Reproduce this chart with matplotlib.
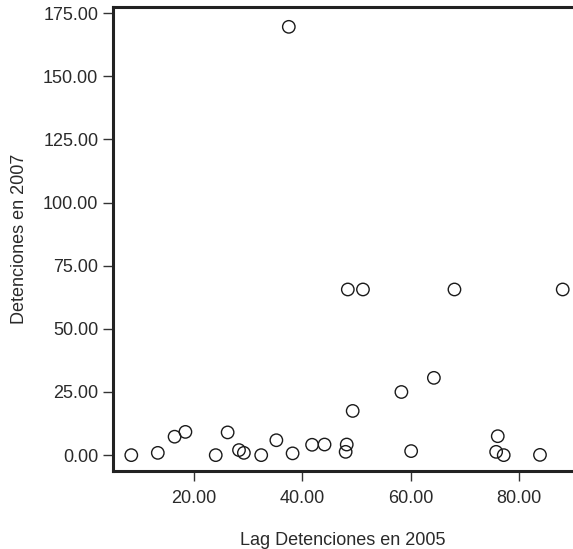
import matplotlib.pyplot as plt
import numpy as np

# Lag Detenciones en 2005 (x) vs Detenciones en 2007 (y)
lag_2005 = [8.4, 13.3, 16.4, 18.4, 24.0, 26.2, 28.3, 29.2, 32.4, 35.2,
            38.2, 41.8, 44.1, 48.2, 48.0, 49.3, 58.3, 64.3, 60.1, 76.1,
            75.8, 77.2, 83.9, 37.5, 48.4, 51.2, 68.1, 88.1]
det_2007 = [0.0, 0.9, 7.3, 9.2, 0.0, 9.0, 2.0, 0.9, 0.0, 5.9,
            0.7, 4.1, 4.2, 4.2, 1.3, 17.5, 25.0, 30.6, 1.6, 7.5,
            1.3, 0.0, 0.1, 169.6, 65.6, 65.6, 65.6, 65.6]

xticks = [20, 40, 60, 80]
yticks = [0, 25, 50, 75, 100, 125, 150, 175]

plt.rcParams['font.family'] = ['Liberation Sans', 'DejaVu Sans']
text_col = '#2a2a2a'

fig = plt.figure(figsize=(5.73, 5.49), dpi=100)
ax = fig.add_axes([0.197, 0.142, 0.803, 0.845])

ax.scatter(lag_2005, det_2007, s=80, facecolors='none', edgecolors='#1a1a1a',
           linewidths=1.0, clip_on=False, zorder=3)

ax.set_xlim(5, 90)
ax.set_ylim(-6.3, 177.4)
ax.set_xticks(xticks)
ax.set_yticks(yticks)
ax.set_xticklabels([f'{v:.2f}' for v in xticks])
ax.set_yticklabels([f'{v:.2f}' for v in yticks])

for side in ['left', 'bottom', 'top']:
    ax.spines[side].set_linewidth(2.2)
    ax.spines[side].set_color('#222222')
ax.spines['right'].set_visible(False)

ax.tick_params(axis='both', direction='out', length=7, width=1.0,
               color='#333333', labelsize=13, labelcolor=text_col)
ax.tick_params(axis='x', pad=6.5)
ax.tick_params(axis='y', pad=3.5)

ax.set_xlabel('Lag Detenciones en 2005', fontsize=13, color=text_col, labelpad=18)
ax.set_ylabel('Detenciones en 2007', fontsize=13, color=text_col, labelpad=11)

fig.savefig('out.png', dpi=100)
